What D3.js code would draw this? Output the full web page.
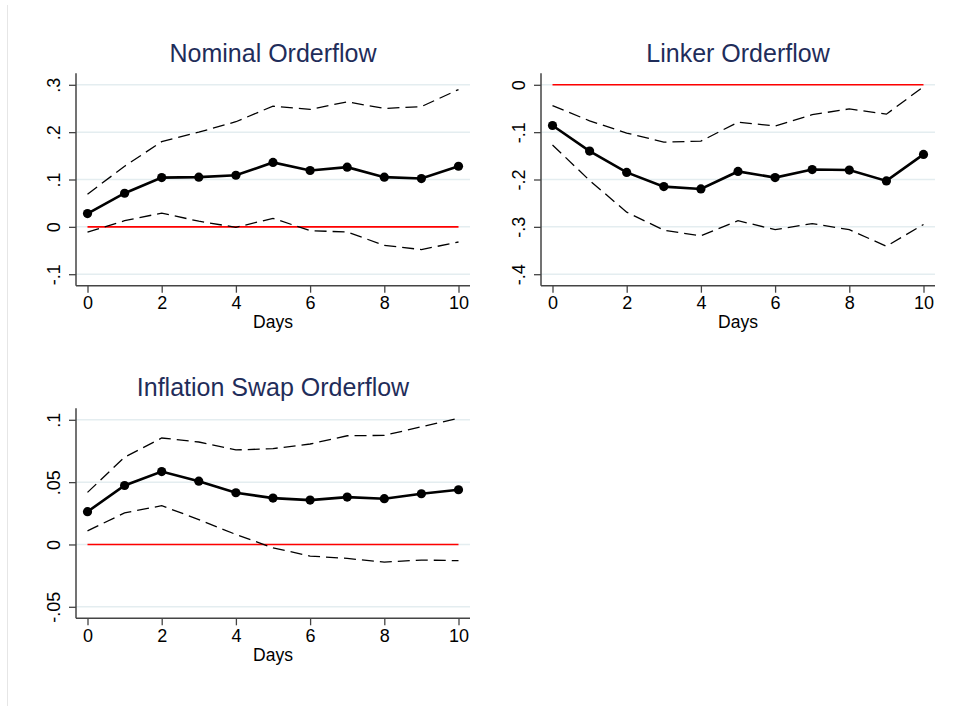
<!DOCTYPE html>
<html>
<head>
<meta charset="utf-8">
<script src="https://cdn.jsdelivr.net/npm/d3@7"></script>
<style>
  body { margin: 0; background: #fff; }
  svg { display: block; font-family: "Liberation Sans", Arial, sans-serif; }
</style>
</head>
<body>
<div id="chart"></div>
<script>
// days after the shock
const days = [0, 1, 2, 3, 4, 5, 6, 7, 8, 9, 10];

// Nominal orderflow: point estimate and bands
const nominalEst   = [0.028, 0.071, 0.104, 0.105, 0.109, 0.136, 0.119, 0.126, 0.105, 0.102, 0.128];
const nominalUpper = [0.069, 0.128, 0.180, 0.200, 0.222, 0.255, 0.248, 0.264, 0.250, 0.254, 0.290];
const nominalLower = [-0.011, 0.013, 0.029, 0.012, -0.001, 0.018, -0.008, -0.011, -0.039, -0.048, -0.032];

// Linker orderflow
const linkerEst   = [-0.086, -0.140, -0.185, -0.215, -0.220, -0.183, -0.196, -0.179, -0.180, -0.203, -0.147];
const linkerUpper = [-0.044, -0.076, -0.102, -0.121, -0.119, -0.079, -0.087, -0.063, -0.051, -0.062, -0.004];
const linkerLower = [-0.127, -0.202, -0.269, -0.307, -0.319, -0.287, -0.306, -0.293, -0.306, -0.341, -0.295];

// Inflation swap orderflow
const swapEst   = [0.0263, 0.0473, 0.0585, 0.0508, 0.0415, 0.0372, 0.0356, 0.0380, 0.0367, 0.0407, 0.0439];
const swapUpper = [0.0418, 0.0700, 0.0854, 0.0822, 0.0758, 0.0769, 0.0806, 0.0872, 0.0875, 0.0944, 0.1013];
const swapLower = [0.0109, 0.0253, 0.0311, 0.0200, 0.0080, -0.0027, -0.0093, -0.0112, -0.0141, -0.0125, -0.0130];

// tick labels
const xTicks = [0, 2, 4, 6, 8, 10];
const nominalTicks = [-0.1, 0, 0.1, 0.2, 0.3];
const nominalLabels = ["-.1", "0", ".1", ".2", ".3"];
const linkerTicks = [-0.4, -0.3, -0.2, -0.1, 0];
const linkerLabels = ["-.4", "-.3", "-.2", "-.1", "0"];
const swapTicks = [-0.05, 0, 0.05, 0.1];
const swapLabels = ["-.05", "0", ".05", ".1"];

const width = 963;
const height = 706;

const svg = d3.select("#chart")
    .append("svg")
    .attr("width", width)
    .attr("height", height);

svg.append("rect")
    .attr("width", width)
    .attr("height", height)
    .attr("fill", "#fff");

// faint border at the very left
svg.append("line")
    .attr("x1", 7.5).attr("x2", 7.5)
    .attr("y1", 5).attr("y2", height)
    .attr("stroke", "#e6e6e6")
    .attr("stroke-width", 1);

const panels = [
    {title: "Nominal Orderflow", est: nominalEst, upper: nominalUpper, lower: nominalLower,
     ticks: nominalTicks, labels: nominalLabels, left: 76, top: 73.3, bottom: 285.7, titleY: 61.7},
    {title: "Linker Orderflow", est: linkerEst, upper: linkerUpper, lower: linkerLower,
     ticks: linkerTicks, labels: linkerLabels, left: 541, top: 73.3, bottom: 285.7, titleY: 61.7},
    {title: "Inflation Swap Orderflow", est: swapEst, upper: swapUpper, lower: swapLower,
     ticks: swapTicks, labels: swapLabels, left: 76, top: 408.3, bottom: 618.3, titleY: 396}
];

const plotW = 394;   // width of the plot region
const pad = 11.5;    // inner padding between axis line and first/last value

panels.forEach(p => {
    const g = svg.append("g");
    const right = p.left + plotW;

    const x = d3.scaleLinear()
        .domain([0, 10])
        .range([p.left + pad, right - pad]);

    const y = d3.scaleLinear()
        .domain(d3.extent(p.ticks))
        .range([p.bottom - pad, p.top + pad]);

    // grid lines
    g.selectAll(".grid")
        .data(p.ticks)
        .enter()
        .append("line")
        .attr("x1", p.left).attr("x2", right)
        .attr("y1", d => y(d)).attr("y2", d => y(d))
        .attr("stroke", "#e4edf0")
        .attr("stroke-width", 1.5);

    // y axis
    const yAxis = g.append("g")
        .attr("transform", `translate(${p.left},0)`)
        .call(d3.axisLeft(y).tickValues(p.ticks).tickSize(7).tickFormat((d, i) => p.labels[i]));
    yAxis.select(".domain").remove();
    yAxis.selectAll(".tick line").attr("stroke", "#444").attr("stroke-width", 1.3);
    yAxis.selectAll(".tick text")
        .attr("x", 0).attr("y", 0).attr("dy", 0)
        .attr("transform", "translate(-16.5,0) rotate(-90)")
        .attr("text-anchor", "middle")
        .attr("fill", "#000")
        .style("font-size", "18px");

    // x axis
    const xAxis = g.append("g")
        .attr("transform", `translate(0,${p.bottom})`)
        .call(d3.axisBottom(x).tickValues(xTicks).tickSize(7).tickFormat(d3.format("d")));
    xAxis.select(".domain").remove();
    xAxis.selectAll(".tick line").attr("stroke", "#444").attr("stroke-width", 1.3);
    xAxis.selectAll(".tick text")
        .attr("y", 23.8).attr("dy", 0)
        .attr("fill", "#000")
        .style("font-size", "18px");

    // axis lines
    g.append("line")
        .attr("x1", p.left).attr("x2", p.left)
        .attr("y1", p.top).attr("y2", p.bottom)
        .attr("stroke", "#444").attr("stroke-width", 1.5);
    g.append("line")
        .attr("x1", p.left).attr("x2", right)
        .attr("y1", p.bottom).attr("y2", p.bottom)
        .attr("stroke", "#444").attr("stroke-width", 1.5);

    // x title
    g.append("text")
        .attr("x", (p.left + right) / 2)
        .attr("y", p.bottom + 42.5)
        .attr("text-anchor", "middle")
        .style("font-size", "17.5px")
        .text("Days");

    // panel title
    g.append("text")
        .attr("x", (p.left + right) / 2)
        .attr("y", p.titleY)
        .attr("text-anchor", "middle")
        .attr("fill", "#1f2d5a")
        .style("font-size", "25px")
        .text(p.title);

    const line = d3.line()
        .x((d, i) => x(days[i]))
        .y(d => y(d));

    // zero reference line
    g.append("path")
        .datum(days.map(() => 0))
        .attr("d", line)
        .attr("fill", "none")
        .attr("stroke", "#ff0000")
        .attr("stroke-width", 1.6);

    // confidence bands
    [p.upper, p.lower].forEach(band => {
        g.append("path")
            .datum(band)
            .attr("d", line)
            .attr("fill", "none")
            .attr("stroke", "#000")
            .attr("stroke-width", 1.3)
            .attr("stroke-dasharray", "12,6");
    });

    // estimate
    g.append("path")
        .datum(p.est)
        .attr("d", line)
        .attr("fill", "none")
        .attr("stroke", "#000")
        .attr("stroke-width", 2.6);

    g.selectAll(".dot")
        .data(p.est)
        .enter()
        .append("circle")
        .attr("cx", (d, i) => x(days[i]))
        .attr("cy", d => y(d))
        .attr("r", 4.6)
        .attr("fill", "#000");
});
</script>
</body>
</html>
